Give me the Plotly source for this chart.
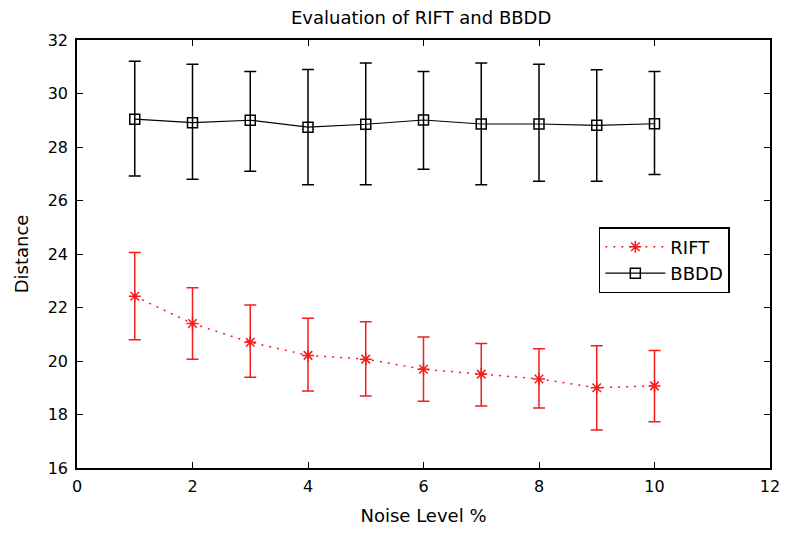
import plotly.graph_objects as go

noise_level = [1, 2, 3, 4, 5, 6, 7, 8, 9, 10]

rift_mean = [22.42, 21.40, 20.70, 20.21, 20.07, 19.69, 19.51, 19.33, 19.00, 19.07]
rift_upper = [24.06, 22.74, 22.09, 21.60, 21.47, 20.90, 20.65, 20.46, 20.57, 20.39]
rift_lower = [20.79, 20.07, 19.39, 18.88, 18.69, 18.50, 18.32, 18.24, 17.42, 17.73]

bbdd_mean = [29.04, 28.91, 29.00, 28.74, 28.85, 29.01, 28.86, 28.86, 28.81, 28.87]
bbdd_upper = [31.21, 31.09, 30.82, 30.90, 31.14, 30.82, 31.14, 31.09, 30.89, 30.82]
bbdd_lower = [26.92, 26.79, 27.09, 26.59, 26.59, 27.17, 26.59, 26.72, 26.72, 26.97]

x_ticks = [0, 2, 4, 6, 8, 10, 12]
y_ticks = [16, 18, 20, 22, 24, 26, 28, 30, 32]

def plus(u, m):
    return [a - b for a, b in zip(u, m)]

def minus(m, l):
    return [a - b for a, b in zip(m, l)]

FONT = "DejaVu Sans, Liberation Sans, sans-serif"
RED = "#f41c1c"

fig = go.Figure()
fig.add_trace(go.Scatter(
    x=noise_level, y=rift_mean, name="RIFT", mode="lines+markers",
    line=dict(color=RED, width=1.5, dash="2px,6px"),
    marker=dict(symbol="asterisk-open", size=10, color=RED, line=dict(color=RED, width=1.5)),
    error_y=dict(type="data", symmetric=False,
                 array=plus(rift_upper, rift_mean),
                 arrayminus=minus(rift_mean, rift_lower),
                 color=RED, thickness=1.5, width=6),
))
fig.add_trace(go.Scatter(
    x=noise_level, y=bbdd_mean, name="BBDD", mode="lines+markers",
    line=dict(color="black", width=1.2),
    marker=dict(symbol="square-open", size=10, color="black", line=dict(color="black", width=1.5)),
    error_y=dict(type="data", symmetric=False,
                 array=plus(bbdd_upper, bbdd_mean),
                 arrayminus=minus(bbdd_mean, bbdd_lower),
                 color="black", thickness=1.5, width=6),
))

axis_common = dict(
    showgrid=False, zeroline=False, showline=True, linecolor="black", linewidth=1.5,
    mirror="ticks", ticks="inside", ticklen=6, tickwidth=1.2, tickcolor="black",
    tickfont=dict(family=FONT, size=16, color="black"),
)

fig.update_layout(
    width=787, height=535,
    paper_bgcolor="white", plot_bgcolor="white",
    margin=dict(l=69, r=25, t=32, b=75),
    title=dict(text="Evaluation of RIFT and BBDD", x=0.525, xanchor="center",
               yref="container", y=0.993, yanchor="top",
               font=dict(family=FONT, size=18, color="black")),
    xaxis=dict(range=[0, 12], tickvals=x_ticks, ticktext=[str(v) for v in x_ticks],
               ticklabelstandoff=3,
               title=dict(text="Noise Level %", font=dict(family=FONT, size=18, color="black"),
                          standoff=14),
               **axis_common),
    yaxis=dict(range=[16, 32], tickvals=y_ticks, ticktext=[str(v) for v in y_ticks],
               ticklabelstandoff=4,
               title=dict(text="Distance", font=dict(family=FONT, size=18, color="black"),
                          standoff=14),
               **axis_common),
    legend=dict(x=0.753, y=0.563, xanchor="left", yanchor="top",
                bgcolor="white", bordercolor="black", borderwidth=1.5,
                font=dict(family=FONT, size=18, color="black"),
                itemwidth=60),
    showlegend=True,
)

fig.write_html("out.html")
